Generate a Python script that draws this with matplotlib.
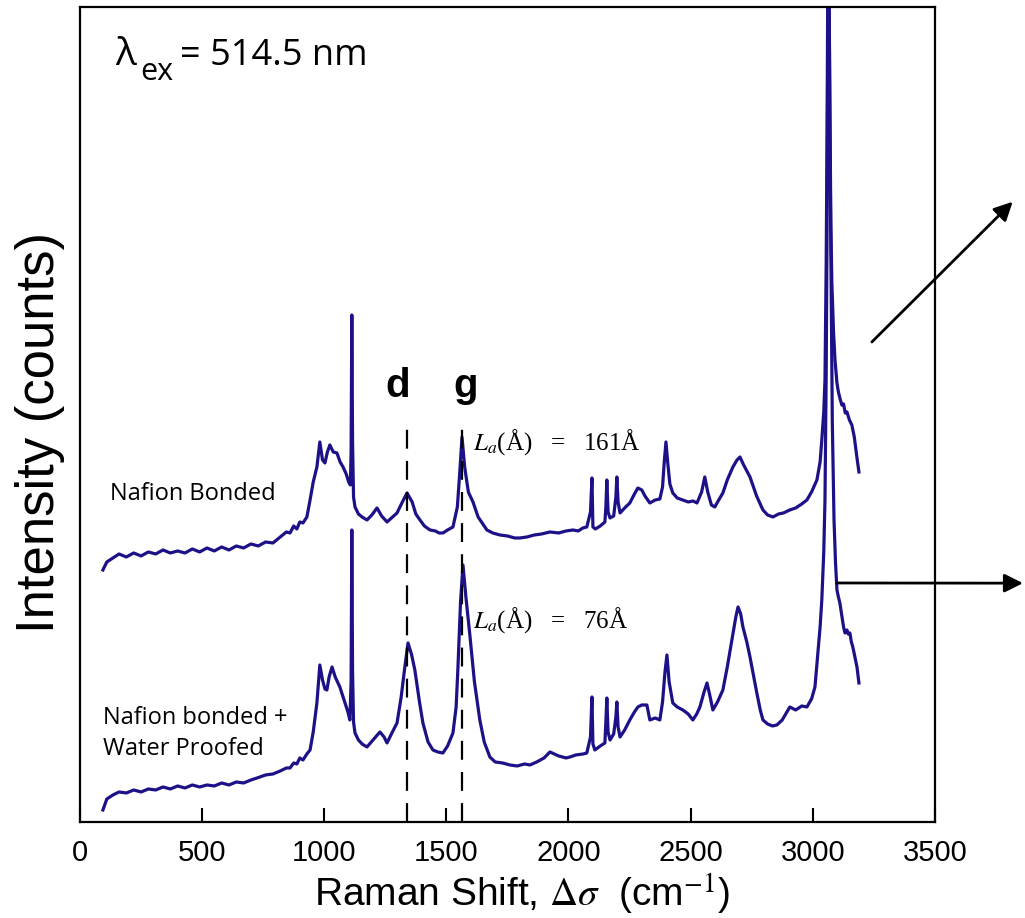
import matplotlib
matplotlib.use('Agg')
import matplotlib.pyplot as plt

plt.rcParams['font.family'] = ['Liberation Sans', 'DejaVu Sans']
plt.rcParams['mathtext.fontset'] = 'stix'

LINE = '#1c1187'

# Nafion Bonded (upper trace), Raman shift in cm-1 / intensity in counts
top_x = [94, 110, 135, 160, 190, 220, 250, 280, 310, 340,
         370, 400, 430, 460, 490, 520, 550, 580, 610, 640,
         670, 700, 730, 760, 790, 820, 845, 860, 875, 888,
         900, 913, 929, 942, 955, 970, 982, 993, 1003, 1013,
         1023, 1037, 1052, 1065, 1077, 1090, 1100, 1107, 1110, 1113,
         1116, 1120, 1126, 1140, 1155, 1175, 1195, 1216, 1235, 1257,
         1275, 1298, 1320, 1339, 1360, 1375, 1392, 1410, 1433, 1455,
         1470, 1486, 1505, 1527, 1545, 1555, 1564, 1575, 1590, 1609,
         1630, 1666, 1690, 1719, 1750, 1780, 1801, 1830, 1860, 1890,
         1924, 1960, 1990, 2018, 2040, 2059, 2075, 2090, 2096, 2100,
         2110, 2130, 2149, 2153, 2157, 2162, 2170, 2185, 2194, 2198,
         2203, 2211, 2230, 2251, 2270, 2284, 2300, 2313, 2333, 2355,
         2374, 2385, 2392, 2399, 2406, 2415, 2427, 2445, 2468, 2490,
         2510, 2526, 2545, 2558, 2570, 2585, 2599, 2615, 2632, 2650,
         2673, 2690, 2702, 2715, 2743, 2770, 2796, 2815, 2837, 2860,
         2880, 2906, 2930, 2955, 2976, 2995, 3017, 3030, 3037, 3045,
         3050, 3055, 3058, 3062, 3066, 3070, 3074, 3078, 3085, 3091,
         3099, 3105, 3112, 3119, 3126, 3133, 3140, 3150, 3160, 3170,
         3181, 3189]
top_y = [2520, 2600, 2640, 2680, 2650, 2690, 2660, 2700, 2680, 2720,
         2690, 2710, 2690, 2730, 2700, 2740, 2710, 2750, 2720, 2760,
         2740, 2780, 2760, 2800, 2790, 2850, 2900, 2890, 2960, 2930,
         3000, 2990, 3050, 3220, 3400, 3550, 3800, 3620, 3590, 3700,
         3770, 3700, 3690, 3600, 3550, 3480, 3400, 3370, 3700, 5070,
         3800, 3250, 3150, 3080, 3050, 3020, 3070, 3140, 3060, 3000,
         3040, 3090, 3200, 3290, 3200, 3080, 3020, 2960, 2920, 2910,
         2890, 2890, 2920, 2950, 3150, 3500, 3850, 3550, 3300, 3200,
         3050, 2920, 2890, 2870, 2860, 2840, 2840, 2850, 2870, 2880,
         2900, 2890, 2910, 2920, 2910, 2940, 2950, 3100, 3440, 2950,
         2930, 2960, 3000, 3150, 3420, 3100, 3040, 3060, 3250, 3450,
         3200, 3090, 3140, 3190, 3280, 3340, 3320, 3260, 3190, 3220,
         3230, 3350, 3600, 3800, 3600, 3380, 3290, 3240, 3220, 3200,
         3210, 3190, 3300, 3450, 3300, 3170, 3150, 3220, 3290, 3420,
         3550, 3620, 3650, 3580, 3450, 3260, 3120, 3070, 3050, 3080,
         3090, 3120, 3140, 3180, 3220, 3300, 3420, 3600, 3820, 4100,
         4420, 5600, 6720, 8600, 8600, 7200, 6000, 5400, 4900, 4620,
         4390, 4300, 4230, 4170, 4180, 4090, 4100, 4020, 3970, 3850,
         3640, 3500]

# Nafion bonded + Water Proofed (lower trace)
wp_x = [94, 110, 135, 160, 190, 220, 250, 280, 310, 340,
        370, 400, 430, 460, 490, 520, 550, 580, 610, 640,
        670, 700, 725, 760, 790, 820, 845, 860, 875, 888,
        900, 913, 929, 942, 955, 970, 982, 993, 1003, 1011,
        1020, 1032, 1045, 1064, 1080, 1097, 1105, 1110, 1113, 1116,
        1120, 1126, 1140, 1155, 1175, 1200, 1228, 1245, 1257, 1275,
        1298, 1315, 1330, 1343, 1357, 1371, 1390, 1404, 1425, 1445,
        1465, 1486, 1505, 1527, 1540, 1547, 1558, 1568, 1580, 1597,
        1615, 1637, 1655, 1678, 1700, 1730, 1760, 1790, 1820, 1842,
        1870, 1900, 1924, 1960, 1990, 2006, 2030, 2060, 2075, 2090,
        2096, 2100, 2108, 2130, 2149, 2153, 2157, 2162, 2170, 2185,
        2194, 2198, 2203, 2211, 2230, 2251, 2270, 2284, 2300, 2321,
        2333, 2355, 2374, 2385, 2395, 2403, 2412, 2427, 2445, 2468,
        2490, 2509, 2525, 2538, 2555, 2567, 2580, 2591, 2610, 2632,
        2650, 2669, 2685, 2694, 2705, 2714, 2730, 2743, 2757, 2771,
        2785, 2796, 2815, 2835, 2853, 2875, 2906, 2930, 2955, 2976,
        2995, 3009, 3021, 3030, 3037, 3045, 3050, 3055, 3058, 3062,
        3066, 3070, 3074, 3080, 3087, 3093, 3099, 3105, 3111, 3120,
        3126, 3132, 3140, 3145, 3152, 3158, 3164, 3170, 3181, 3189]
wp_y = [120, 230, 270, 300, 290, 320, 300, 330, 320, 350,
        330, 360, 340, 370, 350, 370, 360, 390, 370, 400,
        390, 420, 440, 470, 480, 510, 540, 540, 590, 580,
        640, 620, 680, 720, 900, 1190, 1570, 1420, 1330, 1320,
        1450, 1550, 1450, 1350, 1230, 1100, 1020, 1400, 2920, 1500,
        1000, 890, 820, 780, 750, 820, 900, 850, 790, 880,
        990, 1250, 1550, 1790, 1680, 1520, 1200, 990, 800, 720,
        700, 690, 760, 890, 1150, 1520, 2200, 2570, 2250, 1850,
        1400, 1020, 800, 650, 600, 590, 570, 560, 580, 570,
        600, 640, 700, 660, 640, 650, 670, 680, 690, 850,
        1250, 780, 720, 760, 790, 1000, 1240, 900, 820, 880,
        1050, 1200, 950, 850, 920, 1020, 1100, 1150, 1170, 1170,
        1020, 1040, 1020, 1200, 1500, 1670, 1400, 1190, 1150, 1120,
        1080, 1020, 1080, 1150, 1300, 1390, 1250, 1120, 1200, 1320,
        1550, 1820, 2050, 2150, 2080, 1950, 1800, 1650, 1470, 1290,
        1120, 1020, 980, 960, 970, 1020, 1150, 1120, 1160, 1150,
        1230, 1350, 1690, 1950, 2220, 2700, 3220, 4500, 5720, 8000,
        8600, 7000, 5720, 4000, 3020, 2600, 2320, 2250, 2190, 2050,
        1950, 1890, 1920, 1880, 1890, 1800, 1750, 1680, 1550, 1390]

# d and g band positions, tops of the dashed guides
band_names = ['d', 'g']
band_pos = [1339, 1564]
band_top = [4020, 3990]
band_label_x = [1302, 1580]

# crystallite size annotations
la_text = [r'$L_a$(Å)   =   161Å', r'$L_a$(Å)   =   76Å']
la_xy = [(1609, 3720), (1609, 1940)]

fig = plt.figure(figsize=(10.25, 9.18), dpi=100)
ax = fig.add_axes([0.078, 0.1046, 0.8341, 0.8878])

ax.plot(top_x, top_y, color=LINE, lw=2.3)
ax.plot(wp_x, wp_y, color=LINE, lw=2.3)

ax.set_xlim(0, 3500)
ax.set_ylim(0, 8150)
ax.set_xticks(range(0, 3501, 500))
ax.set_yticks([])
ax.tick_params(axis='x', direction='in', length=10, width=1.5,
               labelsize=21, pad=12)
for s in ax.spines.values():
    s.set_linewidth(1.6)

ax.vlines(band_pos, 0, band_top, colors='k', lw=1.6,
          linestyles=[(0, (8.5, 5.5))])
for name, lx in zip(band_names, band_label_x):
    ax.text(lx, 4250, name, fontsize=29, fontweight='bold',
            ha='center', va='baseline')

for txt, (tx, ty) in zip(la_text, la_xy):
    ax.text(tx, ty, txt, fontsize=18, family='Liberation Serif',
            va='baseline')

# arrows pointing out of the plot
arrow = dict(arrowstyle='-|>', color='k', lw=2, mutation_scale=28,
             shrinkA=0, shrinkB=0)
ax.annotate('', xy=(1.091, 0.761), xycoords='axes fraction',
            xytext=(3242, 4800), textcoords='data',
            arrowprops=arrow, annotation_clip=False)
ax.annotate('', xy=(1.103, 0.293), xycoords='axes fraction',
            xytext=(3099, 2390), textcoords='data',
            arrowprops=arrow, annotation_clip=False)

# labels
fig.text(0.112, 0.929, 'λ', fontsize=28, family='Open Sans', va='baseline')
fig.text(0.1366, 0.913, 'ex', fontsize=22, family='Open Sans', va='baseline')
fig.text(0.1756, 0.929, '= 514.5 nm', fontsize=26, family='Open Sans',
         va='baseline')

fig.text(0.1073, 0.4553, 'Nafion Bonded', fontsize=17, family='Open Sans',
         va='baseline')
fig.text(0.1005, 0.2113, 'Nafion bonded +', fontsize=17, family='Open Sans',
         va='baseline')
fig.text(0.1005, 0.1776, 'Water Proofed', fontsize=17, family='Open Sans',
         va='baseline')

fig.text(0.039, 0.529, 'Intensity (counts)', rotation=90, fontsize=38,
         ha='center', va='center')
fig.text(0.509, 0.026, r'Raman Shift, $\Delta\sigma$  (cm$^{-1}$)',
         fontsize=28, ha='center', va='center')

fig.savefig('out.png', dpi=100)
